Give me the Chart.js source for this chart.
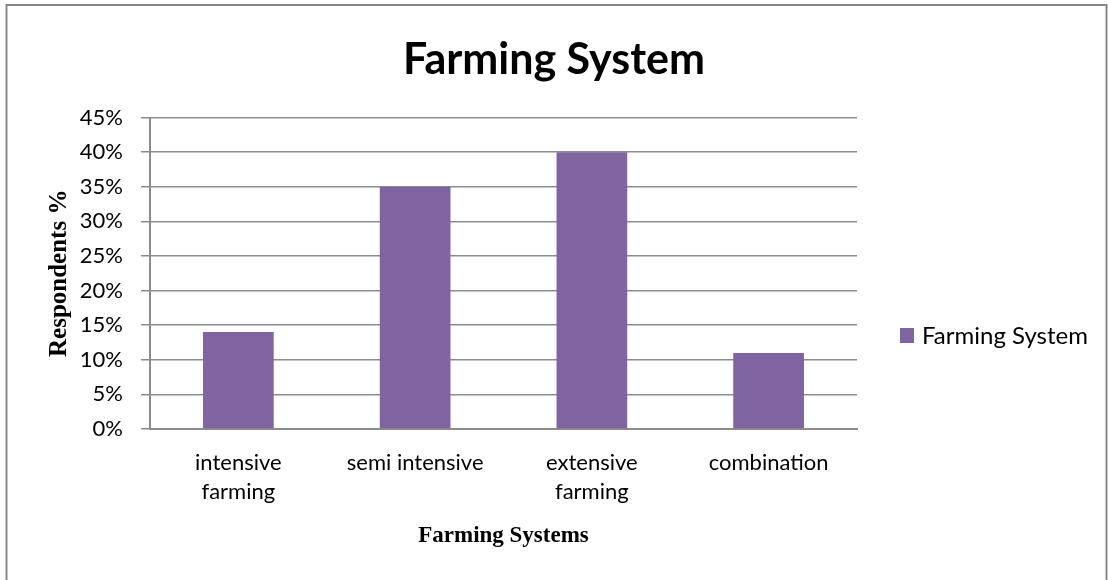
<!DOCTYPE html>
<html>
<head>
<meta charset="utf-8">
<script src="https://cdn.jsdelivr.net/npm/chart.js@4/dist/chart.umd.min.js"></script>
<style>
  html, body { margin: 0; padding: 0; background: #fff; }
  #wrap { width: 1108px; height: 580px; position: relative; }
</style>
</head>
<body>
<div id="wrap"><canvas id="chart" width="1108" height="580"></canvas></div>
<script>
// ─── Data ─────────────────────────────────────────────────────────────────────

const CATEGORIES = [['intensive', 'farming'], 'semi intensive', ['extensive', 'farming'], 'combination'];
const SERIES_NAME = 'Farming System';
const SERIES_VALUES = [14, 35, 40, 11];
const Y_MIN = 0;
const Y_MAX = 45;
const Y_STEP = 5;

const CHART_TITLE = 'Farming System';
const X_TITLE = 'Farming Systems';
const Y_TITLE = 'Respondents %';

// ─── Style ────────────────────────────────────────────────────────────────────

const BAR_COLOR = '#8064A2';
const GRID_COLOR = '#8c8c8c';
const FRAME_COLOR = '#878787';
const SANS = 'Lato, "Noto Sans", sans-serif';
const SERIF = '"Liberation Serif", "DejaVu Serif", serif';

// outer chart frame (bottom edge is cropped off in the reference)
const framePlugin = {
  id: 'frame',
  beforeDraw(chart) {
    const ctx = chart.ctx;
    ctx.save();
    ctx.fillStyle = '#fff';
    ctx.fillRect(0, 0, chart.width, chart.height);
    ctx.strokeStyle = FRAME_COLOR;
    ctx.lineWidth = 2;
    ctx.beginPath();
    ctx.moveTo(6.5, chart.height + 5);
    ctx.lineTo(6.5, 5);
    ctx.lineTo(chart.width - 1.5, 5);
    ctx.lineTo(chart.width - 1.5, chart.height + 5);
    ctx.stroke();
    ctx.restore();
  },
};

// legend drawn in the right-hand gutter, Office style
const sideLegend = {
  id: 'sideLegend',
  afterDraw(chart) {
    const ctx = chart.ctx;
    const ds = chart.data.datasets[0];
    ctx.save();
    ctx.fillStyle = ds.backgroundColor;
    ctx.fillRect(900, 328, 14, 15);
    ctx.fillStyle = '#000';
    ctx.font = '24px ' + SANS;
    ctx.textBaseline = 'middle';
    ctx.fillText(ds.label, 922, 336);
    ctx.restore();
  },
};

const config = {
  type: 'bar',
  data: {
    labels: CATEGORIES,
    datasets: [{
      label: SERIES_NAME,
      data: SERIES_VALUES,
      backgroundColor: BAR_COLOR,
      categoryPercentage: 1,
      barPercentage: 0.4,
    }],
  },
  options: {
    animation: false,
    responsive: false,
    devicePixelRatio: 1,
    layout: { padding: 0 },
    plugins: {
      legend: { display: false },
      tooltip: { enabled: false },
      title: {
        display: true,
        text: CHART_TITLE,
        color: '#000',
        font: { family: SANS, size: 43, weight: 'bold' },
        padding: { top: 34, bottom: 32 },
      },
    },
    scales: {
      x: {
        grid: { display: false, drawTicks: false },
        border: { display: true, color: GRID_COLOR, width: 2 },
        ticks: {
          color: '#000',
          font: { family: SANS, size: 22, lineHeight: 1.3 },
          padding: 20,
          maxRotation: 0,
          autoSkip: false,
        },
        title: {
          display: true,
          text: X_TITLE,
          color: '#000',
          font: { family: SERIF, size: 23, weight: 'bold' },
          padding: { top: 0, bottom: 30 },
        },
        afterFit: s => { s.height = 151; },
      },
      y: {
        min: Y_MIN,
        max: Y_MAX,
        grid: { color: GRID_COLOR, lineWidth: 1.5, tickLength: 9 },
        border: { display: true, color: GRID_COLOR, width: 2 },
        ticks: {
          stepSize: Y_STEP,
          color: '#000',
          font: { family: SANS, size: 22 },
          padding: 18,
          callback: v => v + '%',
        },
        title: {
          display: true,
          text: Y_TITLE,
          color: '#000',
          font: { family: SERIF, size: 25, weight: 'bold' },
          padding: { top: 45, bottom: 0 },
        },
        afterFit: s => { s.width = 150; },
      },
      // empty gutter on the right that holds the legend
      gutter: {
        type: 'linear',
        position: 'right',
        grid: { display: false, drawTicks: false },
        border: { display: false },
        ticks: { display: false },
        afterFit: s => { s.width = 251; },
      },
    },
  },
  plugins: [framePlugin, sideLegend],
};

new Chart(document.getElementById('chart').getContext('2d'), config);
</script>
</body>
</html>
